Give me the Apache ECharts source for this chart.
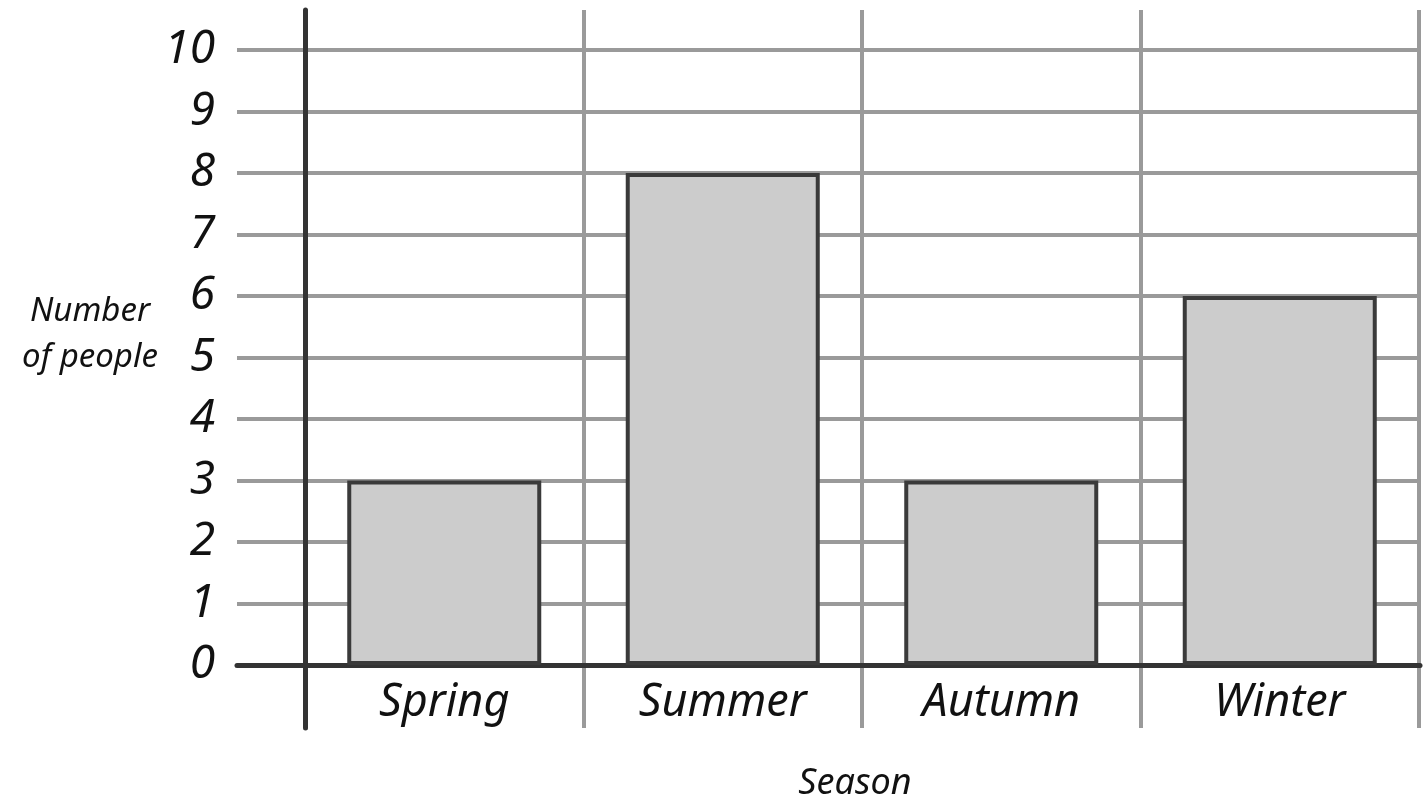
<!DOCTYPE html>
<html>
<head>
<meta charset="utf-8">
<script src="https://cdn.jsdelivr.net/npm/echarts@6/dist/echarts.min.js"></script>
<style>html,body{margin:0;padding:0;background:#fff}#c{width:1428px;height:802px}</style>
</head>
<body>
<div id="c"></div>
<script>
var seasons = ['Spring', 'Summer', 'Autumn', 'Winter'];
var people = [3, 8, 3, 6];
var yTicks = [0, 10, 1];
var yTitle = 'Number\nof people';
var xTitle = 'Season';

var FONT = '"Noto Sans", sans-serif';
var chart = echarts.init(document.getElementById('c'));
chart.setOption({
  backgroundColor: '#ffffff',
  animation: false,
  grid: [
    {left: 237, right: 8, top: 50, bottom: 137},
    {left: 305, right: 9, top: 10, bottom: 74},
    {left: 305, right: 9, top: 50, bottom: 137}
  ],
  xAxis: [
    {gridIndex: 0, type: 'value', min: 0, max: 1, axisLine: {show: true, onZero: false, lineStyle: {color: '#333', width: 5}},
      axisTick: {show: false}, axisLabel: {show: false}, splitLine: {show: false}},
    {gridIndex: 1, type: 'category', data: seasons, axisLine: {show: false}, axisTick: {show: false}, axisLabel: {show: false},
      splitLine: {show: true, lineStyle: {color: '#9a9a9a', width: 4}}},
    {gridIndex: 2, type: 'category', data: seasons, axisLine: {show: false}, axisTick: {show: false},
      axisLabel: {show: true, margin: 16, color: '#111', fontSize: 45, fontStyle: 'italic', fontFamily: FONT}}
  ],
  yAxis: [
    {gridIndex: 0, type: 'value', min: yTicks[0], max: yTicks[1], interval: yTicks[2], axisLine: {show: false}, axisTick: {show: false},
      axisLabel: {margin: 22, color: '#111', fontSize: 46, fontStyle: 'italic', fontFamily: FONT},
      splitLine: {show: true, lineStyle: {color: '#9a9a9a', width: 4}}},
    {gridIndex: 1, type: 'value', min: 0, max: 1, axisLine: {show: true, lineStyle: {color: '#333', width: 5}}, axisTick: {show: false},
      axisLabel: {show: false}, splitLine: {show: false}},
    {gridIndex: 2, type: 'value', min: yTicks[0], max: yTicks[1], interval: yTicks[2], show: false}
  ],
  series: [{
    type: 'bar', xAxisIndex: 2, yAxisIndex: 2, data: people, barWidth: 194,
    itemStyle: {color: '#cccccc', borderColor: '#3a3a3a', borderWidth: 4},
    z: 5
  }],
  graphic: [
    {type: 'text', x: 90, y: 335, style: {text: yTitle, fill: '#111', font: 'italic 33px ' + FONT, align: 'center', verticalAlign: 'middle', lineHeight: 46}, z: 10},
    {type: 'text', x: 855, y: 784, style: {text: xTitle, fill: '#111', font: 'italic 36px ' + FONT, align: 'center', verticalAlign: 'middle'}, z: 10}
  ]
});
</script>
</body>
</html>
